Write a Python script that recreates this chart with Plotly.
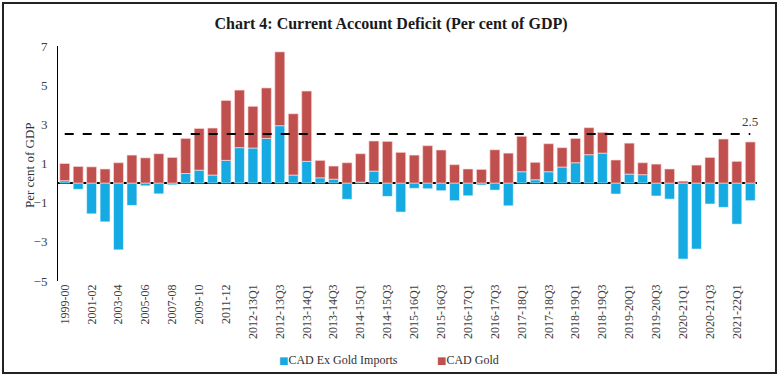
import plotly.graph_objects as go

# ---- data ----
annual = ["1999-00", "2000-01", "2001-02", "2002-03", "2003-04", "2004-05", "2005-06",
          "2006-07", "2007-08", "2008-09", "2009-10", "2010-11", "2011-12", "2012-13"]
quarters = [f"{y}-{str(y + 1)[2:]}Q{q}" for y in range(2012, 2022) for q in (1, 2, 3, 4)]
quarters = quarters[:quarters.index("2021-22Q2") + 1]
categories = annual + quarters

cad_ex_gold = [0.12, -0.32, -1.57, -1.98, -3.41, -1.14, -0.14, -0.55, -0.09, 0.49,
               0.66, 0.41, 1.16, 1.81, 1.79, 2.28, 2.93, 0.41, 1.11, 0.27,
               0.20, -0.83, 0.05, 0.61, -0.68, -1.48, -0.27, -0.29, -0.39, -0.90,
               -0.65, -0.10, -0.36, -1.16, 0.58, 0.17, 0.58, 0.82, 1.04, 1.45,
               1.53, -0.56, 0.46, 0.43, -0.66, -0.82, -3.88, -3.37, -1.07, -1.24,
               -2.10, -0.90]
cad_gold = [0.88, 0.85, 0.83, 0.72, 1.04, 1.43, 1.29, 1.50, 1.31, 1.79,
            2.13, 2.40, 3.06, 2.94, 2.13, 2.58, 3.77, 3.13, 3.59, 0.89,
            0.67, 1.04, 1.45, 1.54, 2.13, 1.57, 1.43, 1.91, 1.69, 0.94,
            0.72, 0.70, 1.70, 1.53, 1.81, 0.89, 1.43, 0.99, 1.24, 1.38,
            1.06, 1.18, 1.58, 0.61, 0.97, 0.72, 0.10, 0.92, 1.31, 2.25,
            1.11, 2.10]
threshold = 2.5
tick_labels = categories[0:13:2] + categories[14::2]
y_ticks = [-5, -3, -1, 1, 3, 5, 7]
series_names = ["CAD Ex Gold Imports", "CAD Gold"]

# ---- layout constants ----
W, H = 778, 382
L, R, T, B = 58, 21, 46, 101
pw, ph = W - L - R, H - T - B
def px(x):
    return (x - L) / pw
def py(y):
    return (H - B - y) / ph

FONT = "Liberation Serif, Times New Roman, serif"
BLUE = "#15ABE2"
RED = "#C0504D"

fig = go.Figure()
fig.add_trace(go.Bar(x=categories, y=cad_ex_gold, name=series_names[0],
                     marker=dict(color=BLUE, line=dict(color="rgba(255,255,255,0.7)", width=0.8))))
fig.add_trace(go.Bar(x=categories, y=cad_gold, name=series_names[1],
                     marker=dict(color=RED, line=dict(color="rgba(255,220,220,0.8)", width=0.8))))

fig.add_shape(type="line", xref="x", yref="y", x0=0, x1=len(categories) - 1,
              y0=threshold, y1=threshold, line=dict(color="black", width=2, dash="dash"))
fig.add_annotation(x=len(categories) - 1, y=threshold, xref="x", yref="y",
                   text=str(threshold), showarrow=False, yshift=13,
                   font=dict(family=FONT, size=13, color="#404040"))
# y-axis title
fig.add_annotation(x=px(29), y=py(165), xref="paper", yref="paper", text="Per cent of GDP",
                   textangle=-90, showarrow=False, xanchor="center", yanchor="middle",
                   font=dict(family=FONT, size=13, color="#303030"))
# legend (drawn as text entries)
for name, color, xpos in [(series_names[0], BLUE, 277), (series_names[1], RED, 435)]:
    fig.add_annotation(x=px(xpos), y=py(360), xref="paper", yref="paper",
                       text=f'<span style="color:{color};font-family:DejaVu Sans;font-size:10px">■</span>{name}',
                       showarrow=False, xanchor="left", yanchor="middle",
                       font=dict(family=FONT, size=12, color="#303030"))
# outer frame
fig.add_shape(type="rect", xref="paper", yref="paper", x0=px(3), x1=px(776),
              y0=py(373), y1=py(3), line=dict(color="#222222", width=2), layer="below")

fig.update_layout(
    width=W, height=H, margin=dict(l=L, r=R, t=T, b=B, autoexpand=False),
    paper_bgcolor="white", plot_bgcolor="white",
    barmode="relative", bargap=0.26,
    title=dict(text="<b>Chart 4: Current Account Deficit (Per cent of GDP)</b>",
               x=391 / W, xanchor="center", y=1 - 23 / H, yanchor="middle",
               font=dict(family=FONT, size=16, color="#1a1a1a")),
    font=dict(family=FONT, size=12, color="#404040"),
    showlegend=False,
    xaxis=dict(type="category", tickmode="array", tickvals=tick_labels, ticktext=tick_labels,
               tickangle=-90, showgrid=False, showline=False, ticks="", automargin=False,
               tickfont=dict(family=FONT, size=12, color="#404040"),
               range=[-0.5, len(categories) - 0.5]),
    yaxis=dict(range=[-5, 7], tickvals=y_ticks, showgrid=False, showline=True,
               linecolor="black", linewidth=1, ticks="", ticklabelstandoff=7, automargin=False,
               zeroline=True, zerolinecolor="black", zerolinewidth=1.5,
               tickfont=dict(family=FONT, size=13, color="#404040")),
)

fig.write_html("out.html", config={"displayModeBar": False},
               post_script="document.body.style.margin='0';document.body.style.overflow='hidden';")
